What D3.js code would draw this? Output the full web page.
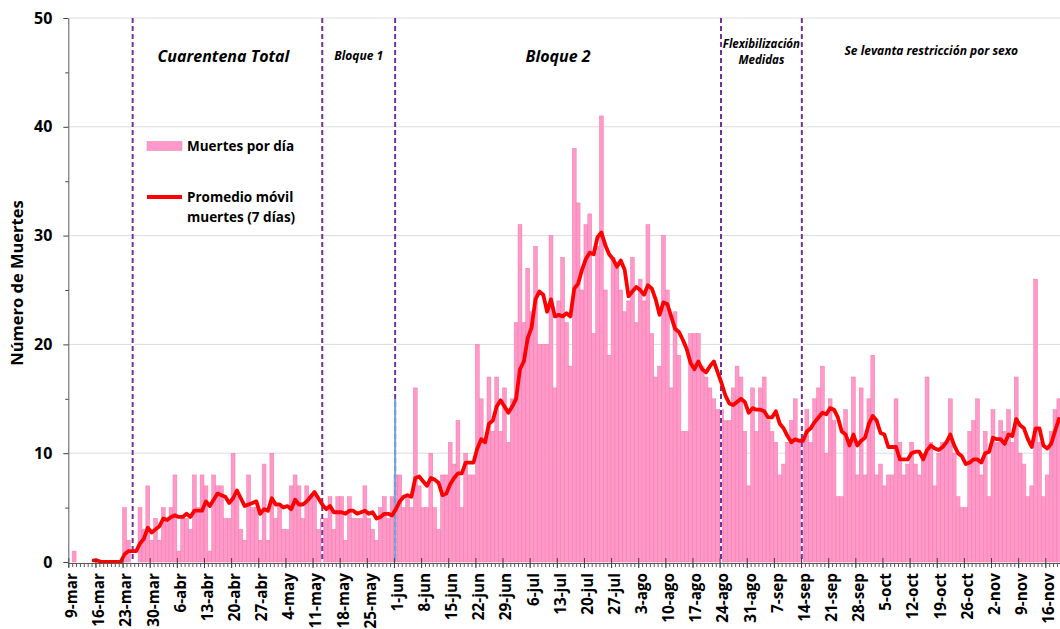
<!DOCTYPE html>
<html>
<head>
<meta charset="utf-8">
<script src="https://cdn.jsdelivr.net/npm/d3@7"></script>
<style>
  body { margin: 0; background: #fff; }
  text { font-family: "Open Sans", "Noto Sans", sans-serif; font-weight: bold; fill: #000; }
</style>
</head>
<body>
<div id="chart"></div>
<script>
// daily deaths, one value per day starting 9-mar (rows = weeks)
const startDay = "2020-03-09";
const deaths = [
  0, 1, 0, 0, 0, 0, 0,
  0, 0, 0, 0, 0, 0, 0,
  5, 2, 0, 0, 5, 3, 7,
  2, 4, 2, 5, 4, 5, 8,
  1, 4, 4, 3, 8, 5, 8,
  7, 1, 8, 7, 7, 4, 4,
  10, 6, 3, 2, 8, 5, 5,
  2, 9, 2, 10, 4, 5, 3,
  3, 7, 8, 7, 4, 7, 6,
  6, 3, 4, 4, 6, 3, 6,
  6, 2, 6, 4, 4, 4, 7,
  4, 3, 2, 5, 6, 4, 6,
  8, 8, 5, 6, 5, 16, 7,
  5, 5, 10, 5, 3, 8, 8,
  11, 9, 13, 5, 10, 8, 8,
  20, 15, 11, 17, 12, 17, 12,
  16, 11, 15, 22, 31, 22, 27,
  23, 29, 20, 20, 20, 30, 16,
  24, 28, 22, 18, 38, 33, 25,
  31, 32, 21, 29, 41, 25, 19,
  28, 27, 25, 23, 24, 28, 22,
  26, 24, 31, 21, 17, 18, 30,
  25, 16, 23, 19, 12, 12, 21,
  21, 21, 18, 17, 16, 15, 14,
  14, 13, 13, 16, 18, 17, 12,
  7, 16, 12, 16, 17, 13, 12,
  11, 8, 9, 11, 13, 15, 11,
  11, 14, 11, 15, 16, 18, 10,
  15, 13, 6, 6, 14, 11, 17,
  8, 16, 8, 15, 19, 8, 9,
  7, 8, 8, 15, 11, 8, 9,
  11, 9, 8, 10, 17, 11, 7,
  10, 11, 11, 15, 10, 6, 5,
  5, 12, 13, 15, 8, 12, 6,
  14, 11, 13, 12, 14, 11, 17,
  10, 9, 6, 7, 26, 11, 6,
  8, 12, 14, 15
];
const windowDays = 7;
const daysShown = 256;

const monthNames = ["ene", "feb", "mar", "abr", "may", "jun", "jul", "ago", "sep", "oct", "nov", "dic"];
const yTicks = [0, 10, 20, 30, 40, 50];
const yMinorTicks = [5, 15, 25, 35, 45];

// phase boundaries (dashed lines) and names of the phases between them
const phaseLines = ["2020-03-25 14:24", "2020-05-13 12:00", "2020-06-01 07:12", "2020-08-24 08:24", "2020-09-14 04:48"];
const phaseNames = [
  ["Cuarentena Total"],
  ["Bloque 1"],
  ["Bloque 2"],
  ["Flexibilización", "Medidas"],
  ["Se levanta restricción por sexo"]
];
const markerValue = 15; // blue mark on the 1-jun line

const legendLabels = [["Muertes por día"], ["Promedio móvil", "muertes (7 días)"]];
const yTitle = "Número de Muertes";

const width = 1060, height = 629;
const plotLeft = 68.3, plotTop = 18, plotBottom = 562;
const dayPx = 3.877;

const parseDay = d3.utcParse("%Y-%m-%d");
const parseTime = d3.utcParse("%Y-%m-%d %H:%M");
const start = parseDay(startDay);
const end = d3.utcDay.offset(start, daysShown);

const data = deaths.map((v, i) => ({ date: d3.utcDay.offset(start, i), value: v }));
const avg = data.slice(windowDays - 1).map((d, k) => ({
  date: d.date,
  value: d3.mean(deaths.slice(k, k + windowDays))
}));

const x = d3.scaleUtc().domain([start, end]).range([plotLeft, plotLeft + daysShown * dayPx]);
const y = d3.scaleLinear().domain([0, 50]).range([plotBottom, plotTop]);
const mid = d => new Date(+d + 12 * 3600 * 1000);

const svg = d3.select("#chart").append("svg")
  .attr("width", width).attr("height", height)
  .style("display", "block");

// gridlines
svg.append("g").selectAll("line").data(yTicks.slice(1)).join("line")
  .attr("x1", plotLeft).attr("x2", width)
  .attr("y1", d => y(d)).attr("y2", d => y(d))
  .attr("stroke", "#dcdcdc").attr("stroke-width", 1);

// bars
svg.append("g").selectAll("rect").data(data).join("rect")
  .attr("x", d => x(d.date))
  .attr("width", d => x(d3.utcDay.offset(d.date, 1)) - x(d.date))
  .attr("y", d => y(d.value))
  .attr("height", d => y(0) - y(d.value))
  .attr("fill", "#ff99cc")
  .attr("stroke", "#f7799f")
  .attr("stroke-width", 0.5);

// phase lines
const lineDates = phaseLines.map(parseTime);
const pl = svg.append("g");
pl.selectAll("line.bg").data(lineDates).join("line").attr("class", "bg")
  .attr("x1", d => x(d)).attr("x2", d => x(d))
  .attr("y1", y(50)).attr("y2", y(0))
  .attr("stroke", "#fff").attr("stroke-width", 2);
pl.selectAll("line.dash").data(lineDates).join("line").attr("class", "dash")
  .attr("x1", d => x(d)).attr("x2", d => x(d))
  .attr("y1", y(50)).attr("y2", y(0))
  .attr("stroke", "#7030a0").attr("stroke-width", 2)
  .attr("stroke-dasharray", "5,3");

// blue mark at start of Bloque 2
svg.append("line")
  .attr("x1", x(lineDates[2])).attr("x2", x(lineDates[2]))
  .attr("y1", y(markerValue)).attr("y2", y(0))
  .attr("stroke", "#6fa8dc").attr("stroke-width", 2);

// moving average
svg.append("path")
  .datum(avg)
  .attr("fill", "none")
  .attr("stroke", "#ff0000")
  .attr("stroke-width", 3.8)
  .attr("stroke-linejoin", "round")
  .attr("stroke-linecap", "round")
  .attr("d", d3.line().x(d => x(mid(d.date))).y(d => y(d.value)));

// phase names, centred between the lines
const bounds = lineDates.concat([end]);
const labelSize = [16, 12, 16, 11.5, 12];
const labelY = [62, 60, 62, 48, 55];
phaseNames.forEach((lines, i) => {
  const cx = (x(bounds[i]) + x(bounds[i + 1])) / 2 - (i === 0 ? 4 : 0);
  const t = svg.append("text")
    .attr("x", cx).attr("y", labelY[i])
    .attr("text-anchor", "middle")
    .style("font-style", "italic")
    .style("font-size", labelSize[i] + "px");
  lines.forEach((s, j) => t.append("tspan").attr("x", cx).attr("dy", j ? "1.4em" : 0).text(s));
});

// x axis: daily minor ticks, weekly labelled ticks
const days = d3.utcDay.range(start, end);
const weeks = days.filter((d, i) => i % 7 === 0);
const fmt = d => `${d.getUTCDate()}-${monthNames[d.getUTCMonth()]}`;

const xMinor = svg.append("g").attr("transform", `translate(0,${plotBottom + 1})`)
  .call(d3.axisBottom(x).tickValues(days).tickSize(4).tickSizeOuter(0).tickFormat(""));
xMinor.select(".domain").attr("stroke", "#595959");
xMinor.selectAll(".tick line").attr("stroke", "#595959");

const xMajor = svg.append("g").attr("transform", `translate(0,${plotBottom + 1})`)
  .call(d3.axisBottom(x).tickValues(weeks).tickSize(5).tickFormat(fmt));
xMajor.select(".domain").remove();
xMajor.selectAll(".tick line").attr("y1", -5).attr("stroke", "#404040");
xMajor.selectAll(".tick text")
  .attr("transform", "rotate(-90)")
  .attr("text-anchor", "end")
  .attr("x", -10).attr("y", 3).attr("dy", "0.35em")
  .style("font-size", "15.3px")
  .style("font-family", "'Open Sans', sans-serif")
  .style("font-weight", "bold")
  .attr("fill", "#000");

// y axis
const yAxis = svg.append("g").attr("transform", `translate(${plotLeft},0)`)
  .call(d3.axisLeft(y).tickValues(yTicks).tickSize(5).tickPadding(11).tickSizeOuter(0));
yAxis.select(".domain").attr("stroke", "#595959");
yAxis.selectAll(".tick line").attr("stroke", "#404040");
yAxis.selectAll(".tick text")
  .style("font-size", "16px")
  .style("font-family", "'Open Sans', sans-serif")
  .style("font-weight", "bold")
  .attr("fill", "#000");
svg.append("g").attr("transform", `translate(${plotLeft},0)`)
  .call(d3.axisLeft(y).tickValues(yMinorTicks).tickSize(3).tickFormat(""))
  .call(g => g.select(".domain").remove())
  .selectAll(".tick line").attr("stroke", "#404040");

svg.append("text")
  .attr("transform", `translate(23,283) rotate(-90)`)
  .attr("text-anchor", "middle")
  .style("font-size", "16.5px")
  .text(yTitle);

// legend
const lg = svg.append("g");
lg.append("rect")
  .attr("x", 147).attr("y", 141.5).attr("width", 35).attr("height", 9)
  .attr("fill", "#ff99cc").attr("stroke", "#f7799f").attr("stroke-width", 0.5);
lg.append("line")
  .attr("x1", 147).attr("x2", 182).attr("y1", 197).attr("y2", 197)
  .attr("stroke", "#ff0000").attr("stroke-width", 3.8);
legendLabels.forEach((lines, i) => {
  const t = lg.append("text")
    .attr("x", 187).attr("y", i ? 202 : 151)
    .style("font-size", "13.5px");
  lines.forEach((s, j) => t.append("tspan").attr("x", 187).attr("dy", j ? 19.5 : 0).text(s));
});
</script>
</body>
</html>
